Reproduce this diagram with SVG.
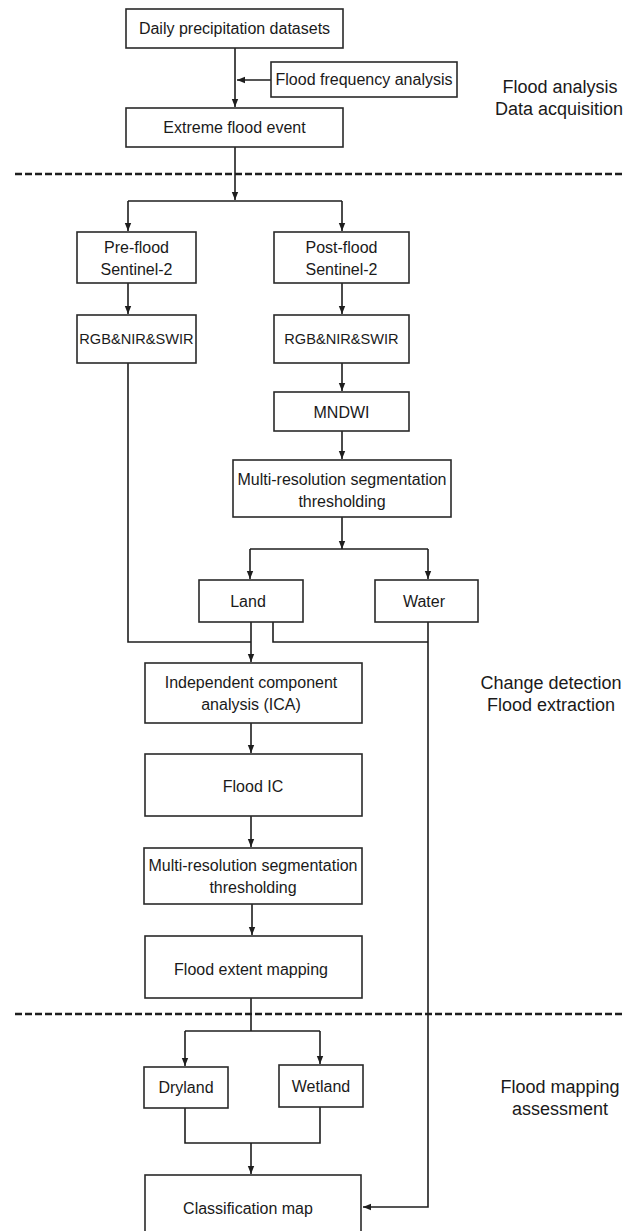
<svg xmlns="http://www.w3.org/2000/svg" width="625" height="1231" viewBox="0 0 625 1231">
<defs>
<style>
.box{fill:#fff;stroke:#2a2a2a;stroke-width:1.6}
.t{font-family:"Liberation Sans",Arial,sans-serif;font-size:16px;fill:#1a1a1a;text-anchor:middle}
.ts{font-size:14.6px}
.lab{font-family:"Liberation Sans",Arial,sans-serif;font-size:18px;fill:#1a1a1a;text-anchor:middle}
.ln{fill:none;stroke:#1e1e1e;stroke-width:1.6}
.ar{fill:none;stroke:#1e1e1e;stroke-width:1.6;marker-end:url(#ah)}
.dash{stroke:#1e1e1e;stroke-width:2.4;stroke-dasharray:7 3}
</style>
<marker id="ah" markerUnits="userSpaceOnUse" markerWidth="8" markerHeight="8" viewBox="0 0 8 8" refX="8" refY="4" orient="auto">
<path d="M0,0.8 L8,4 L0,7.2 Z" fill="#1e1e1e"/>
</marker>
</defs>
<rect width="625" height="1231" fill="#fff"/>

<g id="separators">
<line class="dash" x1="15" y1="174" x2="622" y2="174"/>
<line class="dash" x1="15" y1="1014" x2="622" y2="1014"/>
</g>

<g id="connectors">
<line class="ar" x1="235" y1="48" x2="235" y2="107"/>
<line class="ar" x1="271" y1="80" x2="237" y2="80"/>
<line class="ar" x1="235" y1="147" x2="235" y2="200"/>
<polyline class="ln" points="128,201 342,201"/>
<line class="ar" x1="128" y1="201" x2="128" y2="231"/>
<line class="ar" x1="342" y1="201" x2="342" y2="231"/>
<line class="ar" x1="128" y1="283" x2="128" y2="314"/>
<line class="ar" x1="342" y1="283" x2="342" y2="314"/>
<line class="ar" x1="342" y1="363" x2="342" y2="391"/>
<line class="ar" x1="342" y1="431" x2="342" y2="459"/>
<line class="ar" x1="342" y1="517" x2="342" y2="549"/>
<polyline class="ln" points="250,549 428,549"/>
<line class="ar" x1="250" y1="549" x2="250" y2="579"/>
<line class="ar" x1="428" y1="549" x2="428" y2="579"/>
<polyline class="ln" points="128,363 128,642 251,642"/>
<line class="ar" x1="251" y1="622" x2="251" y2="662"/>
<polyline class="ln" points="273,622 273,642 428,642"/>
<polyline class="ar" points="428,622 428,1207 363,1207"/>
<line class="ar" x1="251" y1="723" x2="251" y2="753"/>
<line class="ar" x1="251" y1="816" x2="251" y2="847"/>
<line class="ar" x1="252" y1="904" x2="252" y2="935"/>
<polyline class="ln" points="251,998 251,1031"/>
<polyline class="ln" points="185,1031 320,1031"/>
<line class="ar" x1="185" y1="1031" x2="185" y2="1066"/>
<line class="ar" x1="320" y1="1031" x2="320" y2="1064"/>
<polyline class="ln" points="185,1108 185,1143 320,1143 320,1107"/>
<line class="ar" x1="251" y1="1143" x2="251" y2="1174"/>
</g>

<g id="n-daily"><rect class="box" x="126" y="9" width="217" height="39"/><text class="t" x="234.5" y="34">Daily precipitation datasets</text></g>
<g id="n-ffa"><rect class="box" x="271" y="62" width="186" height="35"/><text class="t" x="364" y="85">Flood frequency analysis</text></g>
<g id="n-extreme"><rect class="box" x="126" y="108" width="217" height="39"/><text class="t" x="234.5" y="133">Extreme flood event</text></g>
<g id="n-pre"><rect class="box" x="77" y="232" width="119" height="51"/><text class="t" x="136.5" y="253">Pre-flood</text><text class="t" x="136.5" y="275">Sentinel-2</text></g>
<g id="n-post"><rect class="box" x="274" y="232" width="135" height="51"/><text class="t" x="341.5" y="253">Post-flood</text><text class="t" x="341.5" y="275">Sentinel-2</text></g>
<g id="n-rgb-pre"><rect class="box" x="77" y="315" width="119" height="48"/><text class="t ts" x="136.5" y="344">RGB&amp;NIR&amp;SWIR</text></g>
<g id="n-rgb-post"><rect class="box" x="274" y="315" width="135" height="48"/><text class="t ts" x="341.5" y="344">RGB&amp;NIR&amp;SWIR</text></g>
<g id="n-mndwi"><rect class="box" x="274" y="392" width="135" height="39"/><text class="t" x="341.5" y="418">MNDWI</text></g>
<g id="n-mrs1"><rect class="box" x="233" y="460" width="218" height="57"/><text class="t" x="342" y="485">Multi-resolution segmentation</text><text class="t" x="342" y="507">thresholding</text></g>
<g id="n-land"><rect class="box" x="199" y="580" width="104" height="42"/><text class="t" x="248" y="607">Land</text></g>
<g id="n-water"><rect class="box" x="375" y="580" width="103" height="42"/><text class="t" x="424" y="607">Water</text></g>
<g id="n-ica"><rect class="box" x="145" y="663" width="217" height="60"/><text class="t" x="251" y="688">Independent component</text><text class="t" x="251" y="710">analysis (ICA)</text></g>
<g id="n-floodic"><rect class="box" x="145" y="754" width="217" height="62"/><text class="t" x="253" y="792">Flood IC</text></g>
<g id="n-mrs2"><rect class="box" x="144" y="848" width="218" height="56"/><text class="t" x="253" y="871">Multi-resolution segmentation</text><text class="t" x="253" y="893">thresholding</text></g>
<g id="n-fem"><rect class="box" x="145" y="936" width="217" height="62"/><text class="t" x="251" y="975">Flood extent mapping</text></g>
<g id="n-dryland"><rect class="box" x="144" y="1067" width="84" height="41"/><text class="t" x="186" y="1093">Dryland</text></g>
<g id="n-wetland"><rect class="box" x="279" y="1065" width="84" height="42"/><text class="t" x="321" y="1092">Wetland</text></g>
<g id="n-class"><rect class="box" x="145" y="1175" width="216" height="70"/><text class="t" x="248" y="1214">Classification map</text></g>

<g id="labels">
<text class="lab" x="560" y="93">Flood analysis</text>
<text class="lab" x="559" y="115">Data acquisition</text>
<text class="lab" x="551" y="689">Change detection</text>
<text class="lab" x="551" y="711">Flood extraction</text>
<text class="lab" x="560" y="1093">Flood mapping</text>
<text class="lab" x="560" y="1115">assessment</text>
</g>
</svg>
